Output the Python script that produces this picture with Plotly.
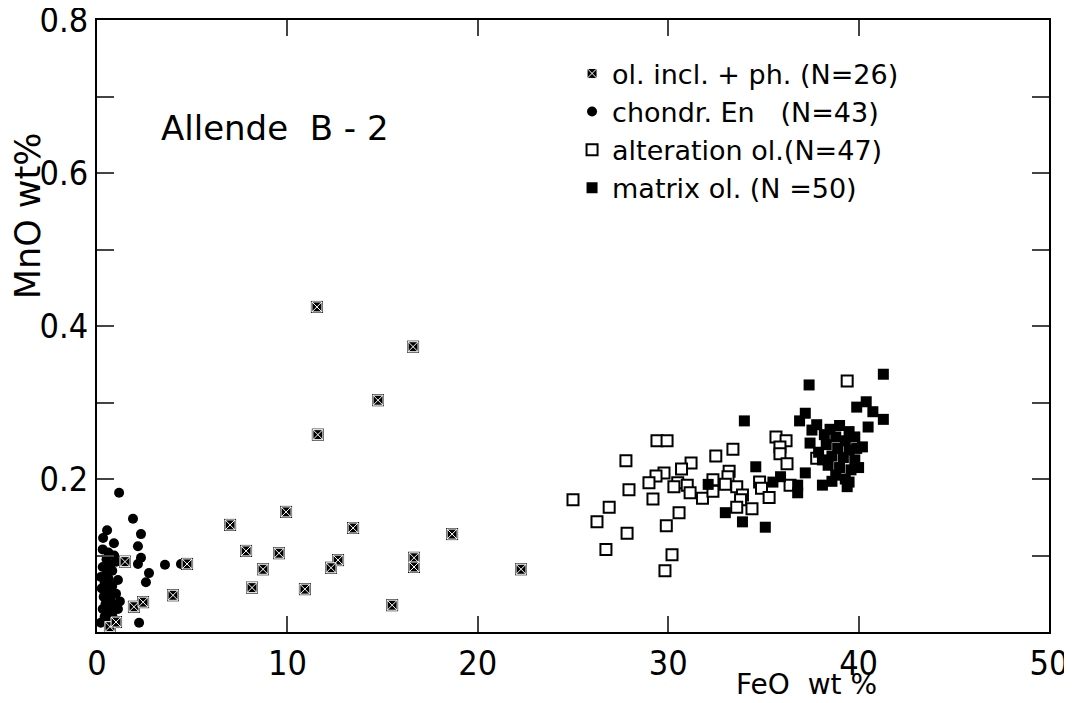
import plotly.graph_objects as go

# --- data (FeO wt%, MnO wt%) ---
incl_feo = [11.55, 16.6, 14.76, 11.6, 9.93, 6.99, 13.45, 18.65, 7.83, 9.56, 12.66, 12.29, 16.65,
            16.65, 8.72, 22.27, 8.14, 10.92, 15.5, 4.73, 3.99, 1.94, 2.42, 1.47, 0.68, 1.0]
incl_mno = [0.425, 0.373, 0.303, 0.258, 0.157, 0.140, 0.136, 0.128, 0.106, 0.103, 0.094, 0.084, 0.097,
            0.085, 0.082, 0.082, 0.058, 0.056, 0.035, 0.089, 0.048, 0.033, 0.039, 0.092, 0.007, 0.013]

en_feo = [1.16, 1.89, 2.31, 2.15, 2.31, 2.15, 3.57, 4.41, 2.73, 2.57, 2.21, 0.53, 0.32, 0.89,
          0.3, 0.6, 0.9, 0.5, 1.0, 0.7, 0.3, 0.8, 0.5, 0.2, 0.6, 1.1, 0.4, 0.8, 0.25,
          0.6, 1.0, 0.35, 0.7, 1.2, 0.45, 0.9, 0.3, 0.6, 1.1, 0.4, 0.8, 0.2, 0.55]
en_mno = [0.182, 0.148, 0.128, 0.112, 0.097, 0.089, 0.088, 0.089, 0.077, 0.065, 0.012, 0.133, 0.123, 0.116,
          0.108, 0.104, 0.100, 0.095, 0.092, 0.088, 0.085, 0.080, 0.076, 0.072, 0.070, 0.068, 0.064, 0.060, 0.057,
          0.054, 0.050, 0.046, 0.043, 0.040, 0.037, 0.034, 0.030, 0.027, 0.030, 0.020, 0.022, 0.012, 0.015]

alt_feo = [29.41, 29.94, 27.78, 32.5, 31.2, 30.7, 29.78, 29.36, 28.99, 30.5, 31.0, 27.94, 31.15, 31.8,
           32.35, 29.2, 25.0, 26.9, 30.57, 26.26, 29.9, 27.84, 26.73, 30.2, 29.83,
           39.4, 35.66, 36.19, 35.87, 35.87, 33.4, 36.24, 37.8, 33.2, 33.14, 32.35, 33.0, 33.6,
           34.8, 34.9, 35.3, 36.4, 33.9, 33.8, 33.6, 34.4, 30.3]
alt_mno = [0.250, 0.250, 0.224, 0.230, 0.221, 0.213, 0.208, 0.204, 0.195, 0.195, 0.192, 0.186, 0.182, 0.175,
           0.184, 0.174, 0.173, 0.163, 0.156, 0.144, 0.139, 0.129, 0.108, 0.101, 0.080,
           0.328, 0.255, 0.250, 0.242, 0.233, 0.239, 0.220, 0.227, 0.210, 0.203, 0.199, 0.193, 0.190,
           0.196, 0.188, 0.176, 0.192, 0.179, 0.173, 0.163, 0.161, 0.190]

mat_feo = [41.3, 37.4, 34.0, 39.9, 40.4, 40.75, 41.3, 37.2, 36.9, 37.8, 37.55, 37.45, 40.2, 38.1,
           39.5, 34.6, 32.1, 35.9, 35.5, 37.2, 36.8, 36.8, 33.0, 33.9, 35.1, 37.9, 38.1,
           38.5, 39.0, 39.5, 38.8, 39.3, 39.8, 38.3, 38.9, 39.5, 38.6, 39.2, 39.8, 38.4, 39.0,
           39.6, 38.8, 39.3, 38.6, 40.0, 39.9, 38.2, 40.5, 39.4]
mat_mno = [0.337, 0.323, 0.276, 0.294, 0.301, 0.288, 0.278, 0.286, 0.276, 0.271, 0.264, 0.247, 0.242, 0.192,
           0.196, 0.216, 0.193, 0.203, 0.196, 0.208, 0.192, 0.182, 0.156, 0.144, 0.137, 0.235, 0.225,
           0.265, 0.270, 0.262, 0.255, 0.250, 0.255, 0.245, 0.240, 0.238, 0.230, 0.228, 0.225, 0.218, 0.215,
           0.212, 0.205, 0.200, 0.197, 0.215, 0.240, 0.258, 0.268, 0.190]

y_ticks = [0, 0.1, 0.2, 0.3, 0.4, 0.5, 0.6, 0.7, 0.8]
y_labels = ["", "", "0.2", "", "0.4", "", "0.6", "", "0.8"]
x_ticks = [0, 10, 20, 30, 40, 50]

FONT = "Liberation Sans Narrow, DejaVu Sans Condensed, Liberation Sans, sans-serif"
TXT_FONT = "DejaVu Sans, sans-serif"

fig = go.Figure()

# open squares (alteration olivine)
fig.add_trace(go.Scatter(
    x=alt_feo, y=alt_mno, mode="markers", name="alteration ol.(N=47)", legendrank=3,
    marker=dict(symbol="square", size=11, color="white", line=dict(color="black", width=2))
))

# filled squares (matrix olivine)
fig.add_trace(go.Scatter(
    x=mat_feo, y=mat_mno, mode="markers", name="matrix ol. (N =50)", legendrank=4,
    marker=dict(symbol="square", size=11, color="black", line=dict(color="black", width=0))
))

# filled circles (chondrule enstatite)
fig.add_trace(go.Scatter(
    x=en_feo, y=en_mno, mode="markers", name="chondr. En   (N=43)", legendrank=2,
    marker=dict(symbol="circle", size=10, color="black", line=dict(width=0))
))

# checkered squares: black square underneath, square-x with white lines on top
fig.add_trace(go.Scatter(
    x=incl_feo, y=incl_mno, mode="markers", showlegend=False, hoverinfo="skip",
    marker=dict(symbol="square", size=12, color="black", line=dict(width=0))
))
fig.add_trace(go.Scatter(
    x=incl_feo, y=incl_mno, mode="markers", name="ol. incl. + ph. (N=26)", legendrank=1,
    marker=dict(symbol="square-x", size=10, color="black", line=dict(color="white", width=1))
))

# page body has an 8px margin, so the margins are shifted by that much
fig.update_layout(
    width=1072, height=703,
    margin=dict(l=89, r=31, t=12, b=79, autoexpand=False),
    plot_bgcolor="white", paper_bgcolor="white",
    font=dict(family=FONT, color="black"),
    legend=dict(
        x=0.499, y=0.952, xanchor="left", yanchor="top",
        font=dict(size=27, family=TXT_FONT), traceorder="normal",
        bgcolor="rgba(0,0,0,0)", itemwidth=30
    ),
    annotations=[
        dict(text="Allende  B - 2", x=0.187, y=0.824, xref="paper", yref="paper",
             xanchor="center", yanchor="middle",
             showarrow=False, font=dict(size=34, family=TXT_FONT)),
        dict(text="MnO wt%", x=-0.0725, y=0.681, xref="paper", yref="paper", textangle=-90,
             xanchor="center", yanchor="middle",
             showarrow=False, font=dict(size=35, family=TXT_FONT)),
        dict(text="FeO  wt %", x=0.745, y=-0.085, xref="paper", yref="paper",
             xanchor="center", yanchor="middle",
             showarrow=False, font=dict(size=28, family=TXT_FONT)),
    ],
)

fig.update_xaxes(
    range=[0, 50], tickvals=x_ticks, ticks="inside", ticklen=16, tickwidth=1.5,
    showline=True, linecolor="black", linewidth=2, mirror="ticks", ticklabeloverflow="allow",
    showgrid=False, zeroline=False, tickfont=dict(size=34, family=FONT)
)
fig.update_yaxes(
    range=[0, 0.8001], tickvals=y_ticks, ticktext=y_labels, ticks="inside", ticklen=17, tickwidth=1.5,
    showline=True, linecolor="black", linewidth=2, mirror="ticks", ticklabeloverflow="allow",
    showgrid=False, zeroline=False, tickfont=dict(size=34, family=FONT)
)

fig.write_html("out.html")
